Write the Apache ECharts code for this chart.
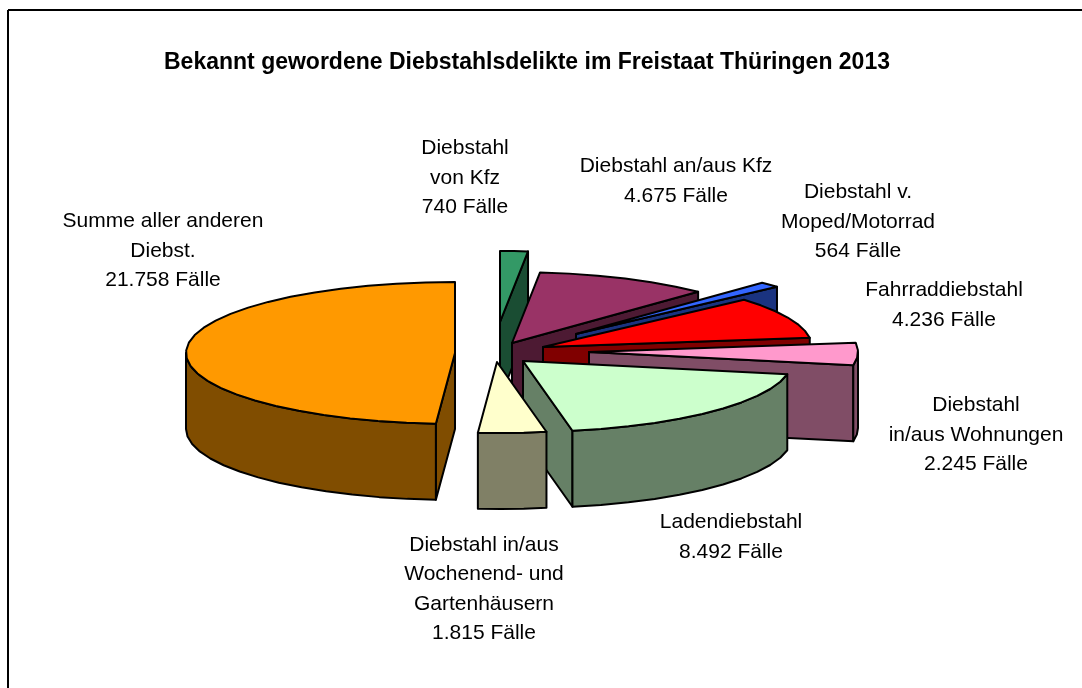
<!DOCTYPE html>
<html><head><meta charset="utf-8">
<style>html,body{margin:0;padding:0;background:#fff}#c{width:1082px;height:688px}</style>
<script src="https://cdn.jsdelivr.net/npm/echarts@6/dist/echarts.min.js"></script>
</head><body><div id="c"></div>
<script>
const chartTitle = 'Bekannt gewordene Diebstahlsdelikte im Freistaat Thüringen 2013';
const categories = ['Diebstahl von Kfz','Diebstahl an/aus Kfz','Diebstahl v. Moped/Motorrad','Fahrraddiebstahl','Diebstahl in/aus Wohnungen','Ladendiebstahl','Diebstahl in/aus Wochenend- und Gartenhäusern','Summe aller anderen Diebst.'];
const values = [740,4675,564,4236,2245,8492,1815,21758];
const labelLines = [
  ['Diebstahl','von Kfz','740 Fälle'],
  ['Diebstahl an/aus Kfz','4.675 Fälle'],
  ['Diebstahl v.','Moped/Motorrad','564 Fälle'],
  ['Fahrraddiebstahl','4.236 Fälle'],
  ['Diebstahl','in/aus Wohnungen','2.245 Fälle'],
  ['Ladendiebstahl','8.492 Fälle'],
  ['Diebstahl in/aus','Wochenend- und','Gartenhäusern','1.815 Fälle'],
  ['Summe aller anderen','Diebst.','21.758 Fälle']
];
const topColors  = ['#339966','#993366','#3366FF','#FF0000','#FF99CC','#CCFFCC','#FFFFCC','#FF9900'];
const sideColors = ['#1A4D33','#4D1A33','#1A3380','#800000','#804D66','#668066','#808066','#804D00'];
// Layout: apex of each exploded slice, label centres, draw order (back to front)
const apexes = [[500,322],[512,343],[576,334],[543,347],[589,352],[523,361],[497,362],[455,353]];
const labelPos = [[465,178],[676,181],[858,222],[944,305],[976,435],[731,537],[484,589],[163,251]];
const drawOrder = [0,1,2,3,4,7,5,6];
const RX = 269, RY = 71, DEPTH = 76, STROKE = '#000', LW = 2;

const total = values.reduce((a,b)=>a+b,0);
const starts = []; let acc = 0;
values.forEach(v => { starts.push(acc/total*2*Math.PI); acc += v; });

function pt(ap, a, dz){ return [ap[0]+RX*Math.sin(a), ap[1]-RY*Math.cos(a)+(dz||0)]; }
function arcPts(ap,a0,a1,dz){
  const n = Math.max(2, Math.ceil((a1-a0)/(Math.PI/28))), out=[];
  for(let i=0;i<=n;i++) out.push(pt(ap,a0+(a1-a0)*i/n,dz));
  return out;
}
function poly(points, fill){
  return {type:'polygon', shape:{points}, style:{fill, stroke:STROKE, lineWidth:LW, lineJoin:'round'}};
}
function renderSlice(params, api){
  const idx = api.value(0), val = api.value(1);
  const a0 = starts[idx], a1 = a0 + val/total*2*Math.PI;
  const ap = apexes[idx], top = topColors[idx], side = sideColors[idx];
  const ch = [];
  const wall = a => poly([ap, pt(ap,a), pt(ap,a,DEPTH), [ap[0],ap[1]+DEPTH]], side);
  if (Math.sin(a0) < 0) ch.push(wall(a0));
  if (Math.sin(a1) > 0) ch.push(wall(a1));
  const f0 = Math.max(a0, Math.PI/2), f1 = Math.min(a1, Math.PI*1.5);
  if (f1 > f0) {
    const up = arcPts(ap,f0,f1,0), low = arcPts(ap,f0,f1,DEPTH).reverse();
    ch.push(poly(up.concat(low), side));
  }
  ch.push(poly([ap].concat(arcPts(ap,a0,a1,0)), top));
  return {type:'group', children:ch};
}
function renderLabel(params, api){
  const idx = api.value(0), lines = labelLines[idx], pos = labelPos[idx];
  return {type:'text', style:{text:lines.join('\n'), x:pos[0], y:pos[1], align:'center', verticalAlign:'middle',
    fill:'#000', font:'21px "Liberation Sans"', lineHeight:29.5}};
}
const chart = echarts.init(document.getElementById('c'), null, {renderer:'canvas'});
chart.setOption({
  animation:false, backgroundColor:'#fff',
  title:{text:chartTitle, left:522, top:46, textAlign:'center',
    textStyle:{fontFamily:'Liberation Sans', fontSize:23, fontWeight:'bold', color:'#000'}},
  graphic:[
    {type:'line', shape:{x1:8,y1:10,x2:1082,y2:10}, style:{stroke:'#000',lineWidth:2}},
    {type:'line', shape:{x1:8,y1:10,x2:8,y2:688}, style:{stroke:'#000',lineWidth:2}}
  ],
  series:[
    {type:'custom', name:'Diebstahlsdelikte', coordinateSystem:'none', silent:true, renderItem:renderSlice,
     encode:{itemName:2},
     data:drawOrder.map(i=>[i, values[i], categories[i]])},
    {type:'custom', name:'Beschriftung', coordinateSystem:'none', silent:true, renderItem:renderLabel, z:5,
     data:values.map((v,i)=>[i, v])}
  ]
});
</script></body></html>
